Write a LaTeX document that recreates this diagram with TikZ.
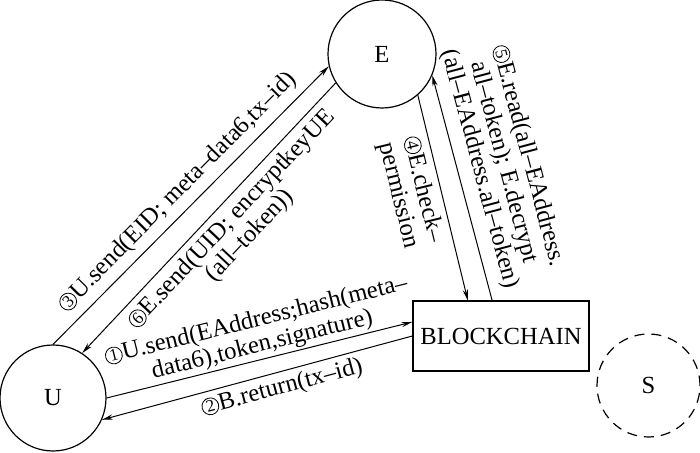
\documentclass[tikz,border=0pt]{standalone}
\usepackage{fontspec}
\setmainfont{Liberation Serif}
\usepackage{tikz}
\usetikzlibrary{arrows.meta, positioning}
\newcommand{\cnum}[1]{\tikz[baseline={([yshift=-0.6pt]cn.base)}]\node[circle, draw, line width=0.4pt, minimum size=8.4pt, inner sep=0pt, font=\fontsize{8.5pt}{9pt}\selectfont] (cn) {#1};}

\begin{document}
\begin{tikzpicture}[
  x=0.5pt, y=-0.5pt,
  party/.style={circle, draw, line width=0.6pt, minimum size=54pt, inner sep=0pt, font=\fontsize{12.3pt}{12.5pt}\selectfont},
  chain/.style={rectangle, draw, line width=0.6pt, minimum width=88pt, minimum height=35pt, inner sep=0pt, font=\fontsize{12.3pt}{12.5pt}\selectfont},
  arrow/.style={-{Stealth[length=5.5pt, width=2.6pt]}, line width=0.5pt},
  lbl/.style={sloped, align=center, inner sep=1pt, font=\fontsize{12.3pt}{12.5pt}\selectfont}
]
  \useasboundingbox (0,0) rectangle (700,453);

  % Nodes
  \node (E) [party] at (382,54) {E};
  \node (U) [party, minimum size=53pt] at (53,398) {U};
  \node (S) [party, dash pattern=on 5pt off 3.5pt, minimum size=51.5pt] at (648.5,385.5) {S};
  \node (chain) [chain] at (501,336) {BLOCKCHAIN};

  % Connectors
  \draw [arrow] (U.90) -- node[lbl, pos=0.5, above=2.5pt] {\cnum{3}U.send(EID; meta–data6,tx–id)} (E.193.5);
  \draw [arrow] (E.212.5) -- node[lbl, pos=0.46, below=2pt] {\cnum{6}E.send(UID; encryptkeyUE\\(all–token))} (U.57);
  \draw [arrow] (U.0) -- node[lbl, pos=0.52, above=0pt] {\cnum{1}U.send(EAddress;hash(meta–\\data6),token,signature)} (chain.171.6);
  \draw [arrow] (chain.180) -- node[lbl, pos=0.433, below=1.3pt] {\cnum{2}B.return(tx–id)} (U.336);
  \draw [arrow] (E.311) -- node[lbl, pos=0.44, below=2pt] {\cnum{4}E.check–\\permission} (chain.133.3);
  \draw [arrow] (chain.104.4) -- node[lbl, pos=0.56, above=4pt] {\cnum{5}E.read(all–EAddress.\\all–token); E.decrypt\\(all–EAddress.all–token)} (E.337.6);
\end{tikzpicture}
\end{document}
